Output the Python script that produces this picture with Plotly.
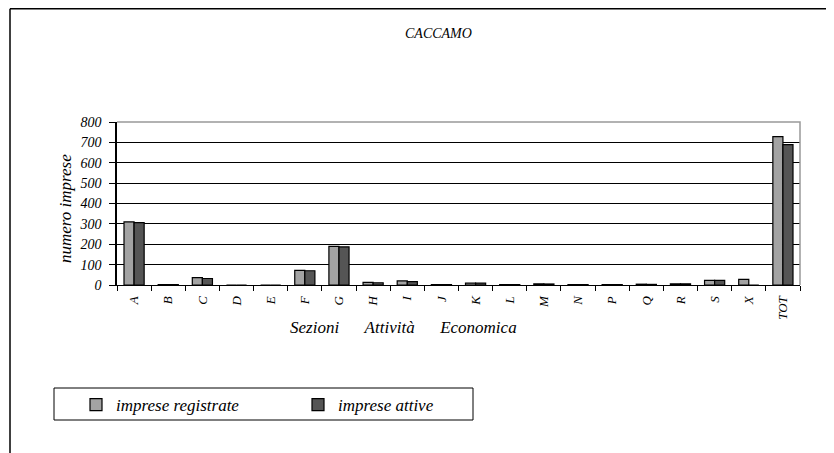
import plotly.graph_objects as go

categories = ["A", "B", "C", "D", "E", "F", "G", "H", "I", "J", "K", "L", "M", "N", "P", "Q", "R", "S", "X", "TOT"]
registrate = [310, 2, 36, 0, 0, 72, 190, 13, 20, 2, 9, 2, 6, 2, 2, 4, 6, 23, 28, 728]
attive = [306, 2, 32, 0, 0, 70, 187, 11, 17, 2, 9, 2, 5, 2, 2, 3, 6, 23, 0, 689]
y_ticks = [0, 100, 200, 300, 400, 500, 600, 700, 800]

# the page body has an 8px margin, so the figure starts at (8, 8) on screen
OFF = 8
W, H = 834 - OFF, 453 - OFF
FONT = "Liberation Serif"

# plot area in screen pixels
PL, PR, PT, PB = 117, 800, 122, 285


def px_x(x):
    return (x - OFF) / W


def px_y(y):
    return 1 - (y - OFF) / H


def ifont(size):
    return dict(family=FONT, size=size, style="italic", color="#000000")


fig = go.Figure()
fig.add_trace(go.Bar(
    x=categories, y=registrate, name="imprese registrate",
    marker=dict(color="#a3a3a3", line=dict(color="#000000", width=1.2)),
))
fig.add_trace(go.Bar(
    x=categories, y=attive, name="imprese attive",
    marker=dict(color="#555555", line=dict(color="#000000", width=1.2)),
))

frame_path = "M {x0},{y0} L {x0},{y1} L {x1},{y1} L {x1},{y2}".format(
    x0=px_x(PL), y0=px_y(PT), y1=px_y(PT), x1=px_x(PR), y2=px_y(PB))

fig.update_layout(
    template="none",
    width=W, height=H,
    margin=dict(l=0, r=0, t=0, b=0),
    paper_bgcolor="white", plot_bgcolor="white",
    barmode="group", bargap=0.41, bargroupgap=0,
    font=ifont(13),
    showlegend=True,
    legend=dict(
        orientation="h", x=px_x(76), y=px_y(387), xanchor="left", yanchor="top",
        font=ifont(17),
        bgcolor="rgba(0,0,0,0)", borderwidth=0,
        entrywidth=177, entrywidthmode="pixels",
    ),
    xaxis=dict(
        domain=[px_x(PL), px_x(PR)], automargin=False,
        type="category", tickangle=-90,
        tickfont=ifont(13), ticklabelstandoff=5,
        ticks="outside", tickson="boundaries", ticklen=5, tickcolor="#000000", tickwidth=1,
        showline=True, linecolor="#000000", linewidth=1,
        showgrid=False,
    ),
    yaxis=dict(
        domain=[px_y(PB), px_y(PT)], automargin=False,
        range=[0, 800], tickvals=y_ticks,
        tickfont=ifont(14), ticklabelstandoff=5,
        ticks="outside", ticklen=6, tickcolor="#000000", tickwidth=1,
        showline=True, linecolor="#000000", linewidth=1.5,
        showgrid=True, gridcolor="#000000", gridwidth=1,
        zeroline=False,
    ),
    shapes=[
        # plot frame (grey top/right)
        dict(type="path", xref="paper", yref="paper", path=frame_path,
             line=dict(color="#999999", width=1.5), layer="above"),
        # outer border top
        dict(type="line", xref="paper", yref="paper",
             x0=px_x(10), x1=1.0, y0=px_y(8.8), y1=px_y(8.8),
             line=dict(color="#000000", width=1.5)),
        # outer border left
        dict(type="line", xref="paper", yref="paper",
             x0=px_x(10), x1=px_x(10), y0=px_y(8.8), y1=0,
             line=dict(color="#000000", width=1.5)),
        # legend box
        dict(type="rect", xref="paper", yref="paper",
             x0=px_x(54), x1=px_x(473), y0=px_y(420), y1=px_y(388),
             line=dict(color="#000000", width=1)),
    ],
    annotations=[
        dict(text="CACCAMO", xref="paper", yref="paper", x=px_x(438), y=px_y(33),
             xanchor="center", yanchor="middle", showarrow=False, font=ifont(14)),
        dict(text="Sezioni\u00a0\u00a0\u00a0\u00a0\u00a0\u00a0Attività\u00a0\u00a0\u00a0\u00a0\u00a0\u00a0Economica",
             xref="paper", yref="paper", x=px_x(403), y=px_y(327),
             xanchor="center", yanchor="middle", showarrow=False, font=ifont(17)),
        dict(text="numero imprese", xref="paper", yref="paper", x=px_x(65), y=px_y(209),
             xanchor="center", yanchor="middle",
             textangle=-90, showarrow=False, font=ifont(17)),
    ],
)

fig.write_html("out.html")
